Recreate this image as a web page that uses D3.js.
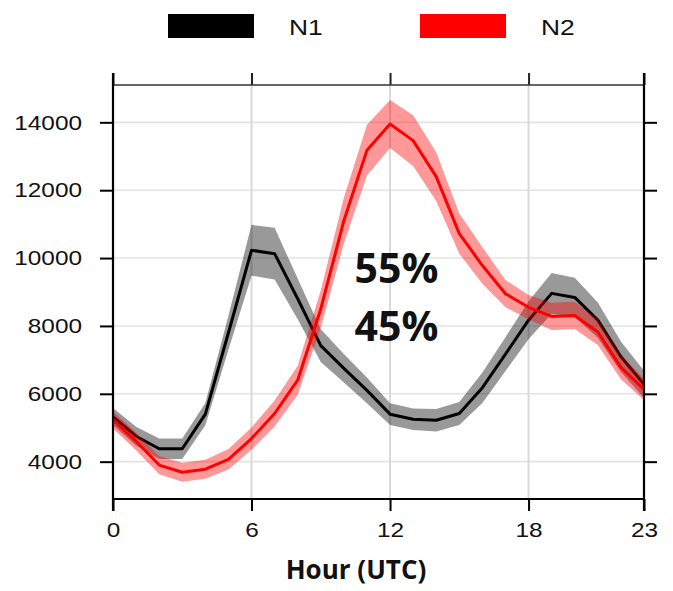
<!DOCTYPE html>
<html>
<head>
<meta charset="utf-8">
<script src="https://cdn.jsdelivr.net/npm/d3@7"></script>
<style>
  html, body { margin: 0; padding: 0; background: #fff; }
  svg { display: block; }
</style>
</head>
<body>
<svg id="chart" width="673" height="591"></svg>
<script>
// Hourly traffic profile for two groups, mean with uncertainty band
const hours = d3.range(0, 24);
const n1Mean   = [5330, 4750, 4380, 4380, 5400, 7800, 10230, 10130, 8800, 7420, 6750, 6100,
                  5400, 5250, 5220, 5420, 6180, 7170, 8170, 8960, 8840, 8170, 7090, 6280];
const n1Spread = [250, 280, 300, 300, 330, 500, 750, 760, 600, 480, 420, 380,
                  320, 320, 330, 340, 450, 500, 560, 600, 580, 520, 450, 400];
const n2Mean   = [5230, 4600, 3900, 3690, 3780, 4070, 4680, 5420, 6400, 8500, 11100, 13180,
                  13950, 13460, 12400, 10720, 9780, 8950, 8550, 8280, 8310, 7820, 6780, 6130];
const n2Spread = [250, 260, 270, 280, 280, 300, 330, 380, 430, 550, 680, 750,
                  710, 750, 720, 590, 540, 400, 360, 400, 400, 380, 350, 320];
const xTicks = [0, 6, 12, 18, 23];
const yTicks = [4000, 6000, 8000, 10000, 12000, 14000];
const seriesNames = ["N1", "N2"];
const seriesColors = ["#000000", "#ff0000"];
const shares = ["55%", "45%"];
const xTitle = "Hour (UTC)";

const svg = d3.select("#chart");
const plotLeft = 113, plotRight = 644, plotTop = 85, plotBottom = 499;

const x = d3.scaleLinear().domain([0, 23]).range([plotLeft, plotRight]);
const y = d3.scaleLinear().domain([2900, 15100]).range([plotBottom, plotTop]);

const labelFont = "'Liberation Sans', Arial, sans-serif";
const boldFont = "'Open Sans', 'Noto Sans', sans-serif";

// horizontally widened text, as in the original figure export
function widen(sel, k) {
  sel.each(function () {
    const t = d3.select(this);
    const tx = +t.attr("x") || 0;
    t.attr("x", 0).attr("transform", `translate(${tx},0) scale(${k},1)`);
  });
}

// grid
const grid = svg.append("g");
grid.selectAll("line.h").data(yTicks).join("line")
  .attr("class", "h")
  .attr("x1", plotLeft).attr("x2", plotRight)
  .attr("y1", d => y(d)).attr("y2", d => y(d))
  .attr("stroke", "#e3e3e3").attr("stroke-width", 1.6);
grid.selectAll("line.v").data(xTicks.filter(d => d > 0 && d < 23)).join("line")
  .attr("class", "v")
  .attr("x1", d => x(d)).attr("x2", d => x(d))
  .attr("y1", plotTop).attr("y2", plotBottom)
  .attr("stroke", "#d9d9d9").attr("stroke-width", 2);

// series: band then line
function makeSeries(mean, spread) {
  return hours.map((h, i) => ({ h, m: mean[i], s: spread[i] }));
}
const band = d3.area()
  .x(d => x(d.h))
  .y0(d => y(d.m - d.s))
  .y1(d => y(d.m + d.s));
const line = d3.line()
  .x(d => x(d.h))
  .y(d => y(d.m));

[[n1Mean, n1Spread], [n2Mean, n2Spread]].forEach(([m, s], i) => {
  const data = makeSeries(m, s);
  svg.append("path").datum(data)
    .attr("d", band)
    .attr("fill", seriesColors[i]).attr("fill-opacity", 0.4);
  svg.append("path").datum(data)
    .attr("d", line)
    .attr("fill", "none")
    .attr("stroke", seriesColors[i])
    .attr("stroke-width", 3)
    .attr("stroke-linejoin", "round");
});

// axes
const axisLeft = svg.append("g").attr("transform", `translate(${plotLeft},0)`)
  .call(d3.axisLeft(y).tickValues(yTicks).tickFormat(d3.format("d"))
    .tickSize(13).tickPadding(18).tickSizeOuter(0));
const axisRight = svg.append("g").attr("transform", `translate(${plotRight},0)`)
  .call(d3.axisRight(y).tickValues(yTicks).tickSize(13).tickFormat("").tickSizeOuter(0));
const axisBottom = svg.append("g").attr("transform", `translate(0,${plotBottom})`)
  .call(d3.axisBottom(x).tickValues(xTicks).tickFormat(d3.format("d"))
    .tickSize(12).tickPadding(11).tickSizeOuter(0));
const axisTop = svg.append("g").attr("transform", `translate(0,${plotTop})`)
  .call(d3.axisTop(x).tickValues(xTicks).tickSize(12).tickFormat("").tickSizeOuter(0));

[axisLeft, axisRight, axisBottom, axisTop].forEach(g => {
  g.select(".domain").remove();
  g.selectAll(".tick line").attr("stroke", "#000").attr("stroke-width", 2);
});
axisTop.selectAll(".tick line").attr("stroke", "#222");

axisLeft.selectAll("text")
  .attr("font-family", labelFont).attr("font-size", 21).attr("fill", "#111");
widen(axisLeft.selectAll("text"), 1.16);
axisBottom.selectAll("text")
  .attr("font-family", labelFont).attr("font-size", 21).attr("fill", "#111")
  .attr("transform", "scale(1.16,1)");

// frame
svg.append("line").attr("x1", plotLeft).attr("x2", plotRight).attr("y1", plotTop).attr("y2", plotTop)
  .attr("stroke", "#333").attr("stroke-width", 1.6);
svg.append("line").attr("x1", plotLeft).attr("x2", plotRight).attr("y1", plotBottom).attr("y2", plotBottom)
  .attr("stroke", "#000").attr("stroke-width", 2.2);
svg.append("line").attr("x1", plotLeft).attr("x2", plotLeft).attr("y1", plotTop - 12).attr("y2", plotBottom + 12)
  .attr("stroke", "#000").attr("stroke-width", 2.2);
svg.append("line").attr("x1", plotRight).attr("x2", plotRight).attr("y1", plotTop - 12).attr("y2", plotBottom + 12)
  .attr("stroke", "#000").attr("stroke-width", 2.2);

// axis title
svg.append("text")
  .attr("x", 356).attr("y", 579)
  .attr("text-anchor", "middle")
  .attr("font-family", boldFont).attr("font-weight", 700).attr("font-size", 26)
  .attr("fill", "#111")
  .text(xTitle);

// share annotations
svg.selectAll("text.share").data(shares).join("text")
  .attr("class", "share")
  .attr("x", 396.5)
  .attr("y", (d, i) => 283 + i * 57.5)
  .attr("text-anchor", "middle")
  .attr("font-family", boldFont).attr("font-weight", 700).attr("font-size", 41)
  .attr("fill", "#111")
  .text(d => d);

// legend
const legendX = [168, 420];
seriesNames.forEach((name, i) => {
  svg.append("rect")
    .attr("x", legendX[i]).attr("y", 14)
    .attr("width", 86).attr("height", 24)
    .attr("fill", seriesColors[i]);
  svg.append("text")
    .attr("transform", `translate(${legendX[i] + 121},35) scale(1.2,1)`)
    .attr("font-family", labelFont).attr("font-size", 22).attr("fill", "#111")
    .text(name);
});
</script>
</body>
</html>
